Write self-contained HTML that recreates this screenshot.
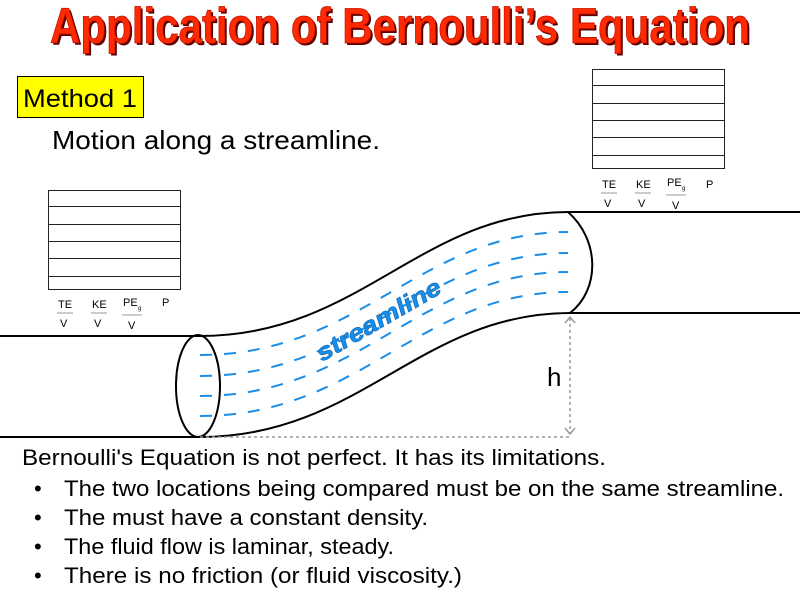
<!DOCTYPE html>
<html><head><style>
html,body{margin:0;padding:0;background:#fff;}
svg{display:block;}
text{font-family:"Liberation Sans",sans-serif;}
</style></head><body>
<svg width="800" height="600" viewBox="0 0 800 600" xmlns="http://www.w3.org/2000/svg">
<defs>
<marker id="ar" markerWidth="10" markerHeight="10" refX="8" refY="5" orient="auto-start-reverse" markerUnits="userSpaceOnUse">
<path d="M3,1 L8,5 L3,9" fill="none" stroke="#999" stroke-width="1.5"/>
</marker>
</defs>
<!-- title -->
<text x="52" y="45" font-size="50" font-weight="bold" fill="#5a0000" textLength="700" lengthAdjust="spacingAndGlyphs">Application of Bernoulli’s Equation</text>
<text x="50" y="43" font-size="50" font-weight="bold" fill="#ff2a00" stroke="#c01000" stroke-width="0.8" textLength="700" lengthAdjust="spacingAndGlyphs">Application of Bernoulli’s Equation</text>
<!-- method box -->
<rect x="17.5" y="76.5" width="126" height="41" fill="#ffff00" stroke="#000" stroke-width="1"/>
<text x="23" y="107" font-size="25" textLength="114" lengthAdjust="spacingAndGlyphs">Method 1</text>
<text x="52" y="149" font-size="26" textLength="328" lengthAdjust="spacingAndGlyphs">Motion along a streamline.</text>
<!-- tables -->
<g stroke="#222" stroke-width="1" fill="none">
<rect x="48.5" y="190.5" width="132" height="99"/>
<line x1="48" y1="206.5" x2="180" y2="206.5"/><line x1="48" y1="224.5" x2="180" y2="224.5"/>
<line x1="48" y1="241.5" x2="180" y2="241.5"/><line x1="48" y1="258.5" x2="180" y2="258.5"/>
<line x1="48" y1="276.5" x2="180" y2="276.5"/>
<rect x="592.5" y="69.5" width="132" height="99"/>
<line x1="592" y1="85.5" x2="724" y2="85.5"/><line x1="592" y1="103.5" x2="724" y2="103.5"/>
<line x1="592" y1="120.5" x2="724" y2="120.5"/><line x1="592" y1="137.5" x2="724" y2="137.5"/>
<line x1="592" y1="155.5" x2="724" y2="155.5"/>
</g>
<g font-size="11" fill="#000">
<text x="58" y="308">TE</text><text x="60" y="327">V</text>
<text x="92" y="308">KE</text><text x="94" y="327">V</text>
<text x="123" y="306">PE</text><text x="138" y="310" font-size="6">g</text><text x="128" y="329">V</text>
<text x="162" y="306">P</text>
<text x="602" y="188">TE</text><text x="604" y="207">V</text>
<text x="636" y="188">KE</text><text x="638" y="207">V</text>
<text x="667" y="186">PE</text><text x="682" y="190" font-size="6">g</text><text x="672" y="209">V</text>
<text x="706" y="188">P</text>
</g>
<g stroke="#999" stroke-width="1">
<line x1="57" y1="313" x2="73" y2="313"/><line x1="91" y1="313" x2="107" y2="313"/><line x1="122" y1="315" x2="142" y2="315"/>
<line x1="601" y1="193" x2="617" y2="193"/><line x1="635" y1="193" x2="651" y2="193"/><line x1="666" y1="195" x2="686" y2="195"/>
</g>
<!-- pipes -->
<g stroke="#000" stroke-width="2" fill="none">
<path d="M0,336 L200,336 C360,336 420,212 568,212 L800,212"/>
<path d="M0,437 L200,437 C360,437 420,313 570,313 L800,313"/>
<ellipse cx="198" cy="386" rx="22" ry="51"/>
<path d="M568,212 C600,240 600,290 570,313"/>
</g>
<!-- streamlines -->
<g stroke="#1a8ee8" stroke-width="2" fill="none" stroke-dasharray="12,12">
<path d="M200,355 C360,355 420,232 568,232"/>
<path d="M200,376 C360,376 420,253 568,253"/>
<path d="M200,396 C360,396 420,272 568,272"/>
<path d="M200,416 C360,416 420,292 568,292"/>
</g>
<text x="0" y="0" font-size="24" font-weight="bold" font-style="italic" fill="#1a8ee8" stroke="#0d6fc0" stroke-width="0.7" transform="translate(322,362) rotate(-30)" textLength="140" lengthAdjust="spacingAndGlyphs">streamline</text>
<!-- h -->
<g stroke="#999" stroke-width="1.5" stroke-dasharray="3,3" fill="none">
<line x1="570" y1="318" x2="570" y2="433"/>
<line x1="200" y1="437" x2="570" y2="437"/>
</g>
<g stroke="#999" stroke-width="1.5" fill="none">
<path d="M565,323 L570,317 L575,323"/>
<path d="M565,428 L570,434 L575,428"/>
</g>
<text x="547" y="386" font-size="26">h</text>
<!-- bottom text -->
<g font-size="22">
<text x="22" y="465" textLength="584" lengthAdjust="spacingAndGlyphs">Bernoulli's Equation is not perfect. It has its limitations.</text>
<text x="34" y="496">•</text><text x="64" y="496" textLength="720" lengthAdjust="spacingAndGlyphs">The two locations being compared must be on the same streamline.</text>
<text x="34" y="525">•</text><text x="64" y="525" textLength="364" lengthAdjust="spacingAndGlyphs">The must have a constant density.</text>
<text x="34" y="554">•</text><text x="64" y="554" textLength="330" lengthAdjust="spacingAndGlyphs">The fluid flow is laminar, steady.</text>
<text x="34" y="583">•</text><text x="64" y="583" textLength="398" lengthAdjust="spacingAndGlyphs">There is no friction (or fluid viscosity.)</text>
</g>
</svg>
</body></html>
